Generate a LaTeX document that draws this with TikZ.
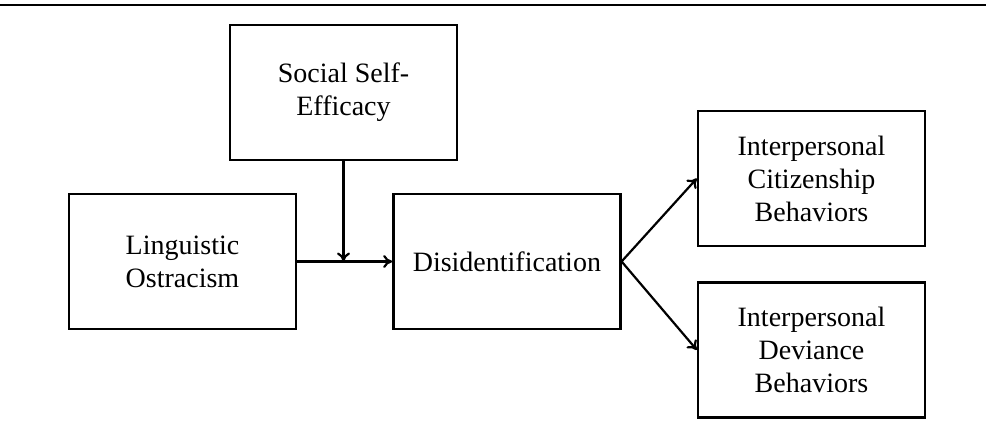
\documentclass[tikz,border=0pt]{standalone}
\usepackage{fontspec}
\setmainfont{Liberation Serif}
\usetikzlibrary{positioning}
\usetikzlibrary{arrows.meta}

\begin{document}
\begin{tikzpicture}[x=0.5pt, y=-0.5pt,
  box/.style={rectangle, draw, line width=1.2pt, minimum width=113.5pt, minimum height=67.5pt, align=center, inner sep=0pt, font=\fontsize{14}{16.5}\selectfont},
  link/.style={-{To[length=4.5pt,width=6.5pt]}, line width=1.1pt}]
\useasboundingbox (0,0) rectangle (986,433);
\draw[line width=1.1pt] (0,5) -- (986,5);
\node[box] (social) at (343.5,92.5) {Social Self-\\Efficacy};
\node[box] (ling) at (182.5,261.5) {Linguistic\\Ostracism};
\node[box,right=47.5pt of ling] (disid) {Disidentification};
\node[box] (cit) at (811.5,178.5) {Interpersonal\\Citizenship\\Behaviors};
\node[box,below=17pt of cit] (dev) {Interpersonal\\Deviance\\Behaviors};
\draw[link] (ling) -- (disid);
\draw[link] (social) -- (social |- ling);
\draw[link] (disid.east) -- (cit.west);
\draw[link] (disid.east) -- (dev.west);
\end{tikzpicture}
\end{document}
